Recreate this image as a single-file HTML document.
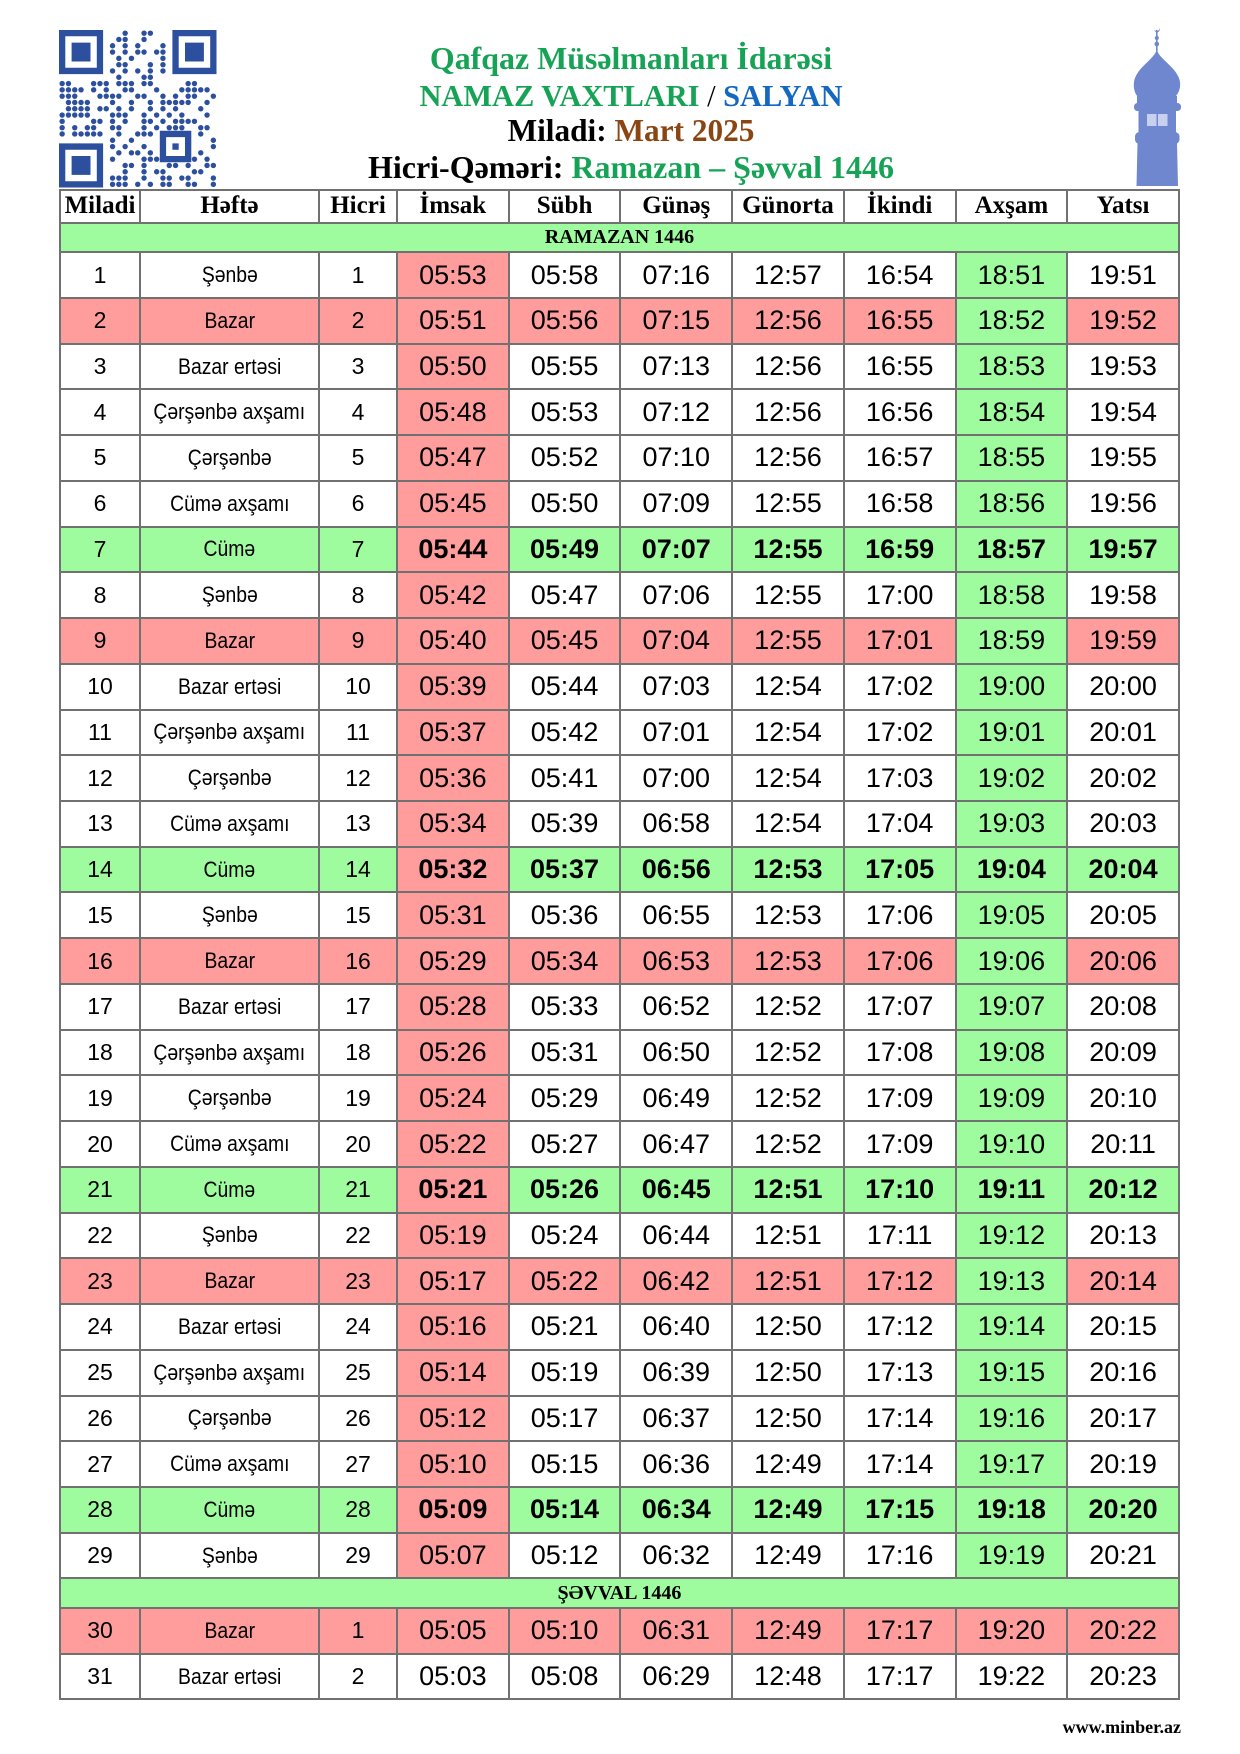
<!DOCTYPE html>
<html><head><meta charset="utf-8">
<style>
*{margin:0;padding:0;box-sizing:border-box}
html,body{width:1240px;height:1754px;background:#fff;overflow:hidden}
body{position:relative;font-family:"Liberation Sans",sans-serif;color:#000}
.tl{position:absolute;left:331px;width:600px;text-align:center;font-family:"Liberation Serif",serif;font-weight:bold;line-height:30px;white-space:nowrap}
.gr{color:#17a356}.bl{color:#1468c0}.br{color:#8b4513}.bk{color:#000}
.g{position:absolute;left:59px;top:188.5px;display:grid;grid-template-columns:78px 177px 76px repeat(7,109.714px);grid-template-rows:31.2px 27.5px repeat(29,43.74px) 27.5px 43.74px 43.74px;gap:2px;padding:2px;background:#717171}
.g>div:not(.r),.g>.r>div{background:#fff;display:flex;align-items:center;justify-content:center;overflow:hidden;white-space:nowrap}
.g>.r{display:contents}
.h{font-family:"Liberation Serif",serif;font-weight:bold;font-size:25px}
.g>div.sec{grid-column:1/-1;background:#9efb9e !important;font-family:"Liberation Serif",serif;font-weight:bold;font-size:20px}
.r>div{font-size:27px}
.r>div:nth-child(1),.r>div:nth-child(3){font-size:23px}
.r>div:nth-child(2) span{font-size:22px;display:inline-block;transform:scaleX(.88)}
.g>.r>div:nth-child(4){background:#ff9c9c}
.g>.r>div:nth-child(9){background:#9efb9e}
.g>.r.s>div{background:#ff9c9c}
.g>.r.s>div:nth-child(9){background:#9efb9e}
.g>.r.s.z>div:nth-child(9){background:#ff9c9c}
.g>.r.f>div{background:#9efb9e}
.g>.r.f>div:nth-child(4){background:#ff9c9c}
.g>.r.f>div:nth-child(n+4){font-weight:bold}
.g>.r.w>div{background:#fff}
.ft{position:absolute;right:59px;top:1718px;font-family:"Liberation Serif",serif;font-weight:bold;font-size:18px;line-height:18px}
</style></head><body>

<svg style="position:absolute;left:59px;top:30.3px" width="157.5" height="157.5" viewBox="0 0 25 25">
<g fill="#2c4f9e">
<path d="M0 0h7v7h-7zM1 1v5h5v-5zM2 2h3v3h-3z" fill-rule="evenodd"/>
<path d="M18 0h7v7h-7zM19 1v5h5v-5zM20 2h3v3h-3z" fill-rule="evenodd"/>
<path d="M0 18h7v7h-7zM1 19v5h5v-5zM2 20h3v3h-3z" fill-rule="evenodd"/>
<path d="M16 16h5v5h-5zM17 17v3h3v-3zM18 18h1v1h-1z" fill-rule="evenodd"/>
</g>
<g fill="#2c4f9e" transform="translate(0.5 0.5)">
<circle r=".43" cx="10" cy="0"/><circle r=".43" cx="13" cy="0"/><circle r=".43" cx="14" cy="0"/>
<circle r=".43" cx="9" cy="1"/><circle r=".43" cx="10" cy="1"/><circle r=".43" cx="13" cy="1"/>
<circle r=".43" cx="8" cy="2"/><circle r=".43" cx="10" cy="2"/><circle r=".43" cx="12" cy="2"/><circle r=".43" cx="16" cy="2"/>
<circle r=".43" cx="8" cy="3"/><circle r=".43" cx="10" cy="3"/><circle r=".43" cx="12" cy="3"/><circle r=".43" cx="13" cy="3"/><circle r=".43" cx="15" cy="3"/><circle r=".43" cx="16" cy="3"/>
<circle r=".43" cx="9" cy="4"/><circle r=".43" cx="11" cy="4"/><circle r=".43" cx="16" cy="4"/>
<circle r=".43" cx="9" cy="5"/><circle r=".43" cx="10" cy="5"/><circle r=".43" cx="14" cy="5"/><circle r=".43" cx="16" cy="5"/>
<circle r=".43" cx="8" cy="6"/><circle r=".43" cx="10" cy="6"/><circle r=".43" cx="12" cy="6"/><circle r=".43" cx="14" cy="6"/><circle r=".43" cx="16" cy="6"/>
<circle r=".43" cx="9" cy="7"/><circle r=".43" cx="13" cy="7"/><circle r=".43" cx="14" cy="7"/>
<circle r=".43" cx="0" cy="8"/><circle r=".43" cx="1" cy="8"/><circle r=".43" cx="5" cy="8"/><circle r=".43" cx="6" cy="8"/><circle r=".43" cx="7" cy="8"/><circle r=".43" cx="9" cy="8"/><circle r=".43" cx="10" cy="8"/><circle r=".43" cx="11" cy="8"/><circle r=".43" cx="13" cy="8"/><circle r=".43" cx="14" cy="8"/><circle r=".43" cx="20" cy="8"/><circle r=".43" cx="21" cy="8"/>
<circle r=".43" cx="0" cy="9"/><circle r=".43" cx="1" cy="9"/><circle r=".43" cx="2" cy="9"/><circle r=".43" cx="3" cy="9"/><circle r=".43" cx="5" cy="9"/><circle r=".43" cx="7" cy="9"/><circle r=".43" cx="10" cy="9"/><circle r=".43" cx="11" cy="9"/><circle r=".43" cx="15" cy="9"/><circle r=".43" cx="19" cy="9"/><circle r=".43" cx="20" cy="9"/><circle r=".43" cx="21" cy="9"/><circle r=".43" cx="22" cy="9"/><circle r=".43" cx="23" cy="9"/>
<circle r=".43" cx="0" cy="10"/><circle r=".43" cx="1" cy="10"/><circle r=".43" cx="2" cy="10"/><circle r=".43" cx="6" cy="10"/><circle r=".43" cx="7" cy="10"/><circle r=".43" cx="8" cy="10"/><circle r=".43" cx="9" cy="10"/><circle r=".43" cx="12" cy="10"/><circle r=".43" cx="13" cy="10"/><circle r=".43" cx="16" cy="10"/><circle r=".43" cx="18" cy="10"/><circle r=".43" cx="20" cy="10"/><circle r=".43" cx="21" cy="10"/><circle r=".43" cx="24" cy="10"/>
<circle r=".43" cx="1" cy="11"/><circle r=".43" cx="2" cy="11"/><circle r=".43" cx="3" cy="11"/><circle r=".43" cx="4" cy="11"/><circle r=".43" cx="8" cy="11"/><circle r=".43" cx="11" cy="11"/><circle r=".43" cx="14" cy="11"/><circle r=".43" cx="16" cy="11"/><circle r=".43" cx="17" cy="11"/><circle r=".43" cx="18" cy="11"/><circle r=".43" cx="19" cy="11"/><circle r=".43" cx="20" cy="11"/><circle r=".43" cx="23" cy="11"/>
<circle r=".43" cx="1" cy="12"/><circle r=".43" cx="2" cy="12"/><circle r=".43" cx="3" cy="12"/><circle r=".43" cx="4" cy="12"/><circle r=".43" cx="6" cy="12"/><circle r=".43" cx="7" cy="12"/><circle r=".43" cx="9" cy="12"/><circle r=".43" cx="11" cy="12"/><circle r=".43" cx="14" cy="12"/><circle r=".43" cx="16" cy="12"/><circle r=".43" cx="18" cy="12"/><circle r=".43" cx="22" cy="12"/>
<circle r=".43" cx="0" cy="13"/><circle r=".43" cx="1" cy="13"/><circle r=".43" cx="2" cy="13"/><circle r=".43" cx="3" cy="13"/><circle r=".43" cx="4" cy="13"/><circle r=".43" cx="8" cy="13"/><circle r=".43" cx="9" cy="13"/><circle r=".43" cx="10" cy="13"/><circle r=".43" cx="13" cy="13"/><circle r=".43" cx="15" cy="13"/><circle r=".43" cx="17" cy="13"/><circle r=".43" cx="19" cy="13"/><circle r=".43" cx="23" cy="13"/>
<circle r=".43" cx="0" cy="14"/><circle r=".43" cx="5" cy="14"/><circle r=".43" cx="6" cy="14"/><circle r=".43" cx="8" cy="14"/><circle r=".43" cx="10" cy="14"/><circle r=".43" cx="13" cy="14"/><circle r=".43" cx="14" cy="14"/><circle r=".43" cx="16" cy="14"/><circle r=".43" cx="18" cy="14"/><circle r=".43" cx="19" cy="14"/><circle r=".43" cx="20" cy="14"/><circle r=".43" cx="21" cy="14"/>
<circle r=".43" cx="0" cy="15"/><circle r=".43" cx="2" cy="15"/><circle r=".43" cx="4" cy="15"/><circle r=".43" cx="5" cy="15"/><circle r=".43" cx="8" cy="15"/><circle r=".43" cx="9" cy="15"/><circle r=".43" cx="13" cy="15"/><circle r=".43" cx="15" cy="15"/><circle r=".43" cx="17" cy="15"/><circle r=".43" cx="18" cy="15"/><circle r=".43" cx="19" cy="15"/><circle r=".43" cx="22" cy="15"/><circle r=".43" cx="23" cy="15"/>
<circle r=".43" cx="0" cy="16"/><circle r=".43" cx="2" cy="16"/><circle r=".43" cx="3" cy="16"/><circle r=".43" cx="4" cy="16"/><circle r=".43" cx="5" cy="16"/><circle r=".43" cx="6" cy="16"/><circle r=".43" cx="9" cy="16"/><circle r=".43" cx="12" cy="16"/><circle r=".43" cx="13" cy="16"/><circle r=".43" cx="14" cy="16"/><circle r=".43" cx="22" cy="16"/>
<circle r=".43" cx="8" cy="17"/><circle r=".43" cx="11" cy="17"/><circle r=".43" cx="24" cy="17"/>
<circle r=".43" cx="8" cy="18"/><circle r=".43" cx="10" cy="18"/><circle r=".43" cx="13" cy="18"/><circle r=".43" cx="24" cy="18"/>
<circle r=".43" cx="9" cy="19"/><circle r=".43" cx="11" cy="19"/><circle r=".43" cx="12" cy="19"/><circle r=".43" cx="14" cy="19"/><circle r=".43" cx="22" cy="19"/>
<circle r=".43" cx="8" cy="20"/><circle r=".43" cx="13" cy="20"/><circle r=".43" cx="14" cy="20"/><circle r=".43" cx="15" cy="20"/><circle r=".43" cx="21" cy="20"/><circle r=".43" cx="23" cy="20"/>
<circle r=".43" cx="10" cy="21"/><circle r=".43" cx="11" cy="21"/><circle r=".43" cx="13" cy="21"/><circle r=".43" cx="17" cy="21"/><circle r=".43" cx="18" cy="21"/><circle r=".43" cx="20" cy="21"/><circle r=".43" cx="23" cy="21"/><circle r=".43" cx="24" cy="21"/>
<circle r=".43" cx="10" cy="22"/><circle r=".43" cx="13" cy="22"/><circle r=".43" cx="15" cy="22"/><circle r=".43" cx="16" cy="22"/><circle r=".43" cx="21" cy="22"/><circle r=".43" cx="22" cy="22"/>
<circle r=".43" cx="8" cy="23"/><circle r=".43" cx="9" cy="23"/><circle r=".43" cx="10" cy="23"/><circle r=".43" cx="13" cy="23"/><circle r=".43" cx="16" cy="23"/><circle r=".43" cx="17" cy="23"/><circle r=".43" cx="19" cy="23"/><circle r=".43" cx="20" cy="23"/><circle r=".43" cx="24" cy="23"/>
<circle r=".43" cx="8" cy="24"/><circle r=".43" cx="9" cy="24"/><circle r=".43" cx="10" cy="24"/><circle r=".43" cx="12" cy="24"/><circle r=".43" cx="14" cy="24"/><circle r=".43" cx="16" cy="24"/><circle r=".43" cx="17" cy="24"/><circle r=".43" cx="20" cy="24"/><circle r=".43" cx="21" cy="24"/><circle r=".43" cx="24" cy="24"/>
</g>
</svg>

<div class="tl gr" style="top:44.2px;font-size:31.9px">Qafqaz Müsəlmanları İdarəsi</div>
<div class="tl gr" style="top:80.7px;font-size:30.4px">NAMAZ VAXTLARI <span class="bk" style="font-weight:normal">/</span> <span class="bl">SALYAN</span></div>
<div class="tl bk" style="top:116.1px;font-size:31.3px">Miladi: <span class="br">Mart 2025</span></div>
<div class="tl bk" style="top:151.9px;font-size:32px">Hicri-Qəməri: <span class="gr">Ramazan – Şəvval 1446</span></div>

<svg style="position:absolute;left:1120px;top:20px" width="80" height="180" viewBox="0 0 80 180">
<g fill="#6f87cf">
<rect x="36" y="10" width="1.6" height="22"/>
<path d="M34.5 9.5a2.6 2.6 0 1 0 4.6 -1.4a2 2 0 1 1 -4.6 1.4z"/>
<circle cx="36.8" cy="18" r="2"/>
<circle cx="36.8" cy="24" r="2.3"/>
<path d="M36.8 30C40 40 58 48 60 62C61 70 57 75 55 77L18 77C16 75 13 70 14 62C16 48 33.5 40 36.8 30Z"/>
<rect x="17" y="76" width="40" height="8"/>
<rect x="14" y="83" width="47" height="8" rx="3.5"/>
<rect x="18.5" y="90" width="37.5" height="23"/>
<rect x="15" y="112" width="44.5" height="12" rx="4.5"/>
<path d="M17.5 123L57 123L58 166L16.5 166Z"/>
</g>
<g fill="#c7d0ee">
<rect x="27" y="94" width="9.5" height="12"/>
<rect x="38" y="94" width="9.5" height="12"/>
</g>
</svg>

<div class="g">
<div class="h">Miladi</div><div class="h">Həftə</div><div class="h">Hicri</div><div class="h">İmsak</div><div class="h">Sübh</div><div class="h">Günəş</div><div class="h">Günorta</div><div class="h">İkindi</div><div class="h">Axşam</div><div class="h">Yatsı</div>
<div class="sec">RAMAZAN 1446</div>
<div class="r"><div>1</div><div><span>Şənbə</span></div><div>1</div><div>05:53</div><div>05:58</div><div>07:16</div><div>12:57</div><div>16:54</div><div>18:51</div><div>19:51</div></div>
<div class="r s"><div>2</div><div><span>Bazar</span></div><div>2</div><div>05:51</div><div>05:56</div><div>07:15</div><div>12:56</div><div>16:55</div><div>18:52</div><div>19:52</div></div>
<div class="r"><div>3</div><div><span>Bazar ertəsi</span></div><div>3</div><div>05:50</div><div>05:55</div><div>07:13</div><div>12:56</div><div>16:55</div><div>18:53</div><div>19:53</div></div>
<div class="r"><div>4</div><div><span>Çərşənbə axşamı</span></div><div>4</div><div>05:48</div><div>05:53</div><div>07:12</div><div>12:56</div><div>16:56</div><div>18:54</div><div>19:54</div></div>
<div class="r"><div>5</div><div><span>Çərşənbə</span></div><div>5</div><div>05:47</div><div>05:52</div><div>07:10</div><div>12:56</div><div>16:57</div><div>18:55</div><div>19:55</div></div>
<div class="r"><div>6</div><div><span>Cümə axşamı</span></div><div>6</div><div>05:45</div><div>05:50</div><div>07:09</div><div>12:55</div><div>16:58</div><div>18:56</div><div>19:56</div></div>
<div class="r f"><div>7</div><div><span>Cümə</span></div><div>7</div><div>05:44</div><div>05:49</div><div>07:07</div><div>12:55</div><div>16:59</div><div>18:57</div><div>19:57</div></div>
<div class="r"><div>8</div><div><span>Şənbə</span></div><div>8</div><div>05:42</div><div>05:47</div><div>07:06</div><div>12:55</div><div>17:00</div><div>18:58</div><div>19:58</div></div>
<div class="r s"><div>9</div><div><span>Bazar</span></div><div>9</div><div>05:40</div><div>05:45</div><div>07:04</div><div>12:55</div><div>17:01</div><div>18:59</div><div>19:59</div></div>
<div class="r"><div>10</div><div><span>Bazar ertəsi</span></div><div>10</div><div>05:39</div><div>05:44</div><div>07:03</div><div>12:54</div><div>17:02</div><div>19:00</div><div>20:00</div></div>
<div class="r"><div>11</div><div><span>Çərşənbə axşamı</span></div><div>11</div><div>05:37</div><div>05:42</div><div>07:01</div><div>12:54</div><div>17:02</div><div>19:01</div><div>20:01</div></div>
<div class="r"><div>12</div><div><span>Çərşənbə</span></div><div>12</div><div>05:36</div><div>05:41</div><div>07:00</div><div>12:54</div><div>17:03</div><div>19:02</div><div>20:02</div></div>
<div class="r"><div>13</div><div><span>Cümə axşamı</span></div><div>13</div><div>05:34</div><div>05:39</div><div>06:58</div><div>12:54</div><div>17:04</div><div>19:03</div><div>20:03</div></div>
<div class="r f"><div>14</div><div><span>Cümə</span></div><div>14</div><div>05:32</div><div>05:37</div><div>06:56</div><div>12:53</div><div>17:05</div><div>19:04</div><div>20:04</div></div>
<div class="r"><div>15</div><div><span>Şənbə</span></div><div>15</div><div>05:31</div><div>05:36</div><div>06:55</div><div>12:53</div><div>17:06</div><div>19:05</div><div>20:05</div></div>
<div class="r s"><div>16</div><div><span>Bazar</span></div><div>16</div><div>05:29</div><div>05:34</div><div>06:53</div><div>12:53</div><div>17:06</div><div>19:06</div><div>20:06</div></div>
<div class="r"><div>17</div><div><span>Bazar ertəsi</span></div><div>17</div><div>05:28</div><div>05:33</div><div>06:52</div><div>12:52</div><div>17:07</div><div>19:07</div><div>20:08</div></div>
<div class="r"><div>18</div><div><span>Çərşənbə axşamı</span></div><div>18</div><div>05:26</div><div>05:31</div><div>06:50</div><div>12:52</div><div>17:08</div><div>19:08</div><div>20:09</div></div>
<div class="r"><div>19</div><div><span>Çərşənbə</span></div><div>19</div><div>05:24</div><div>05:29</div><div>06:49</div><div>12:52</div><div>17:09</div><div>19:09</div><div>20:10</div></div>
<div class="r"><div>20</div><div><span>Cümə axşamı</span></div><div>20</div><div>05:22</div><div>05:27</div><div>06:47</div><div>12:52</div><div>17:09</div><div>19:10</div><div>20:11</div></div>
<div class="r f"><div>21</div><div><span>Cümə</span></div><div>21</div><div>05:21</div><div>05:26</div><div>06:45</div><div>12:51</div><div>17:10</div><div>19:11</div><div>20:12</div></div>
<div class="r"><div>22</div><div><span>Şənbə</span></div><div>22</div><div>05:19</div><div>05:24</div><div>06:44</div><div>12:51</div><div>17:11</div><div>19:12</div><div>20:13</div></div>
<div class="r s"><div>23</div><div><span>Bazar</span></div><div>23</div><div>05:17</div><div>05:22</div><div>06:42</div><div>12:51</div><div>17:12</div><div>19:13</div><div>20:14</div></div>
<div class="r"><div>24</div><div><span>Bazar ertəsi</span></div><div>24</div><div>05:16</div><div>05:21</div><div>06:40</div><div>12:50</div><div>17:12</div><div>19:14</div><div>20:15</div></div>
<div class="r"><div>25</div><div><span>Çərşənbə axşamı</span></div><div>25</div><div>05:14</div><div>05:19</div><div>06:39</div><div>12:50</div><div>17:13</div><div>19:15</div><div>20:16</div></div>
<div class="r"><div>26</div><div><span>Çərşənbə</span></div><div>26</div><div>05:12</div><div>05:17</div><div>06:37</div><div>12:50</div><div>17:14</div><div>19:16</div><div>20:17</div></div>
<div class="r"><div>27</div><div><span>Cümə axşamı</span></div><div>27</div><div>05:10</div><div>05:15</div><div>06:36</div><div>12:49</div><div>17:14</div><div>19:17</div><div>20:19</div></div>
<div class="r f"><div>28</div><div><span>Cümə</span></div><div>28</div><div>05:09</div><div>05:14</div><div>06:34</div><div>12:49</div><div>17:15</div><div>19:18</div><div>20:20</div></div>
<div class="r"><div>29</div><div><span>Şənbə</span></div><div>29</div><div>05:07</div><div>05:12</div><div>06:32</div><div>12:49</div><div>17:16</div><div>19:19</div><div>20:21</div></div>
<div class="sec">ŞƏVVAL 1446</div>
<div class="r s z"><div>30</div><div><span>Bazar</span></div><div>1</div><div>05:05</div><div>05:10</div><div>06:31</div><div>12:49</div><div>17:17</div><div>19:20</div><div>20:22</div></div>
<div class="r w"><div>31</div><div><span>Bazar ertəsi</span></div><div>2</div><div>05:03</div><div>05:08</div><div>06:29</div><div>12:48</div><div>17:17</div><div>19:22</div><div>20:23</div></div>
</div>

<div class="ft">www.minber.az</div>
</body></html>
